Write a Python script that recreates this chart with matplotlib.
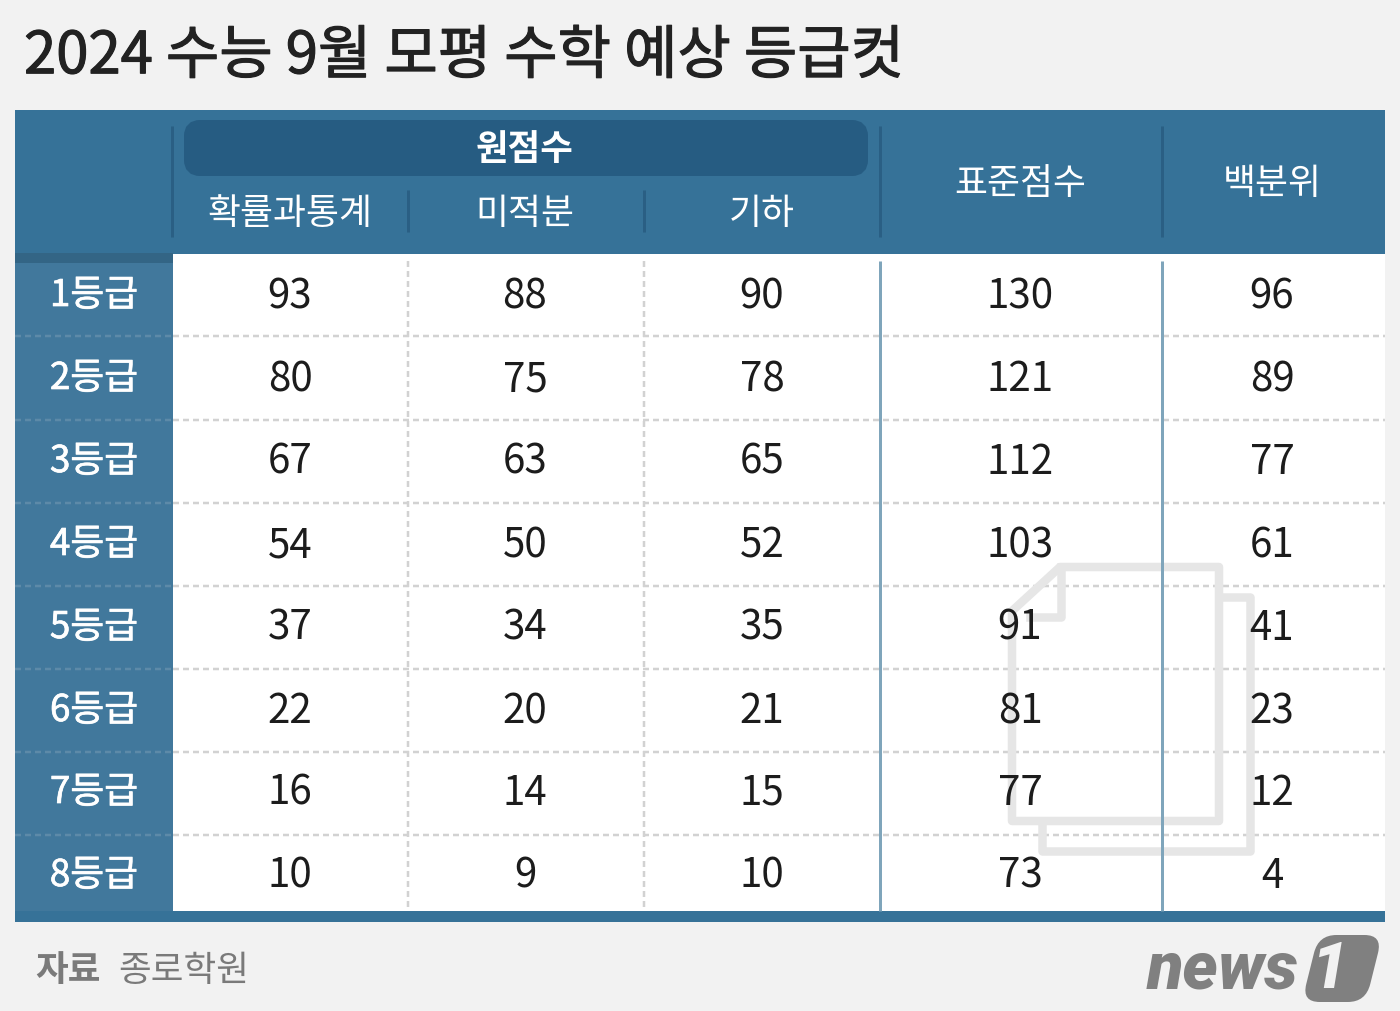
#!/usr/bin/env python3
import matplotlib
matplotlib.use("Agg")
import matplotlib.pyplot as plt
import matplotlib.patheffects as pe
from matplotlib.patches import Rectangle, FancyBboxPatch, Polygon
from matplotlib.transforms import Affine2D

TITLE = "2024 수능 9월 모평 수학 예상 등급컷"
GRADES = ["1등급", "2등급", "3등급", "4등급", "5등급", "6등급", "7등급", "8등급"]
PROB_STAT = [93, 80, 67, 54, 37, 22, 16, 10]
CALCULUS = [88, 75, 63, 50, 34, 20, 14, 9]
GEOMETRY = [90, 78, 65, 52, 35, 21, 15, 10]
STANDARD = [130, 121, 112, 103, 91, 81, 77, 73]
PERCENTILE = [96, 89, 77, 61, 41, 23, 12, 4]
SUB_HEADERS = ["확률과통계", "미적분", "기하"]

FONT = ["Noto Sans CJK KR", "DejaVu Sans"]
plt.rcParams["font.family"] = FONT

BG = "#f2f2f2"
HEAD = "#367298"
SIDE = "#41789c"
DARK = "#265c82"
SEP = "#2a5f84"
DASH = "#d2d2d2"
ICON = "#e6e6e6"
DASHES = (0, (2.4, 1.6))

fig = plt.figure(figsize=(14, 10.12), dpi=100, facecolor=BG)
ax = fig.add_axes([0, 0, 1, 1])
ax.set_xlim(0, 1400)
ax.set_ylim(1012, 0)
ax.axis("off")

def rect(x0, y0, x1, y1, color, z=1):
    ax.add_patch(Rectangle((x0, y0), x1 - x0, y1 - y0, fc=color, ec="none", zorder=z))

def px(n):
    return n * 0.72

def thicker(color, w):
    # only regular and bold are installed, this fakes the medium weight
    return [pe.withStroke(linewidth=w, foreground=color)]

# table blocks
rect(15, 110.5, 1385, 922.5, HEAD)
rect(15, 264, 173, 912, SIDE)
rect(15, 253.5, 173, 264, "#336585", 2)
rect(173, 254.5, 1385, 912, "white", 2)

ax.add_patch(FancyBboxPatch((192, 129), 668, 40, boxstyle="round,pad=0,rounding_size=8",
                            mutation_aspect=1, fc=DARK, ec=DARK, lw=px(16), zorder=2))

# header separators
for x, y0, y1 in [(172, 127, 238), (880, 127, 238), (1161.5, 127, 238), (408, 191, 233), (644, 191, 233)]:
    ax.plot([x, x], [y0, y1], color=SEP, lw=px(3), zorder=3, solid_capstyle="butt")

# grid
row_centers = [293, 376, 459, 542, 625, 708, 790, 873]
col_centers = [290, 525, 762, 1020, 1272]
row_lines = [336.5, 420.5, 503.5, 586.5, 669.5, 752.5, 835.5]
for y in row_lines:
    ax.plot([173, 1385], [y, y], color=DASH, lw=px(2.5), ls=DASHES, zorder=3)
    ax.plot([15, 173], [y, y], color="#5d8aa8", lw=px(2.5), ls=DASHES, zorder=3)
for x in [408, 644]:
    ax.plot([x, x], [262, 912], color=DASH, lw=px(2.5), ls=DASHES, zorder=3)

# watermark icon
icon_lw = px(8.5)
ax.add_patch(Polygon([(1012, 612), (1060, 568), (1219, 568), (1219, 822), (1012, 822)], closed=True,
                     fc="none", ec=ICON, lw=icon_lw, joinstyle="round", zorder=4))
ax.plot([1061, 1061, 1030], [568, 618, 618], color=ICON, lw=icon_lw, solid_joinstyle="round", zorder=4)
ax.plot([1219, 1250, 1250, 1042, 1042], [598, 598, 852, 852, 822], color=ICON, lw=icon_lw,
        solid_joinstyle="round", zorder=4)

for x in [880, 1161.5]:
    ax.plot([x, x], [262, 912], color="#7fa5bb", lw=px(3), zorder=5, solid_capstyle="butt")

# texts
ax.text(24, 58, TITLE, fontsize=41.8, color="#222222", ha="left", va="center", zorder=6,
        path_effects=thicker("#222222", 0.8))
ax.text(525, 149, "원점수", fontsize=25.5, fontweight="bold", color="white", ha="center", va="center", zorder=6)
for x, label in zip(col_centers[:3], SUB_HEADERS):
    ax.text(x, 213.5, label, fontsize=25.8, color="white", ha="center", va="center", zorder=6)
ax.text(col_centers[3], 183.5, "표준점수", fontsize=25.8, color="white", ha="center", va="center", zorder=6)
ax.text(col_centers[4], 183.5, "백분위", fontsize=25.8, color="white", ha="center", va="center", zorder=6)

columns = [PROB_STAT, CALCULUS, GEOMETRY, STANDARD, PERCENTILE]
for y, grade in zip(row_centers, GRADES):
    ax.text(94, y + 3.5, grade, fontsize=26.5, color="white", ha="center", va="center", zorder=6,
            path_effects=thicker("white", 0.5))
for x, col in zip(col_centers, columns):
    for y, val in zip(row_centers, col):
        ax.text(x, y + 3.5, str(val), fontsize=29, color="#1c1c1c", ha="center", va="center", zorder=6)

# source
ax.text(35, 971, "자료", fontsize=25.6, fontweight="bold", color="#7a7a7a", ha="left", va="center")
ax.text(118, 971, "종로학원", fontsize=25.6, color="#7a7a7a", ha="left", va="center")

# logo
ax.text(1147, 970, "news", fontsize=48, family="Roboto", style="italic", fontweight="black",
        color="#808080", ha="left", va="center")
skew = Affine2D().translate(-1342, -970).skew_deg(-14, 0).translate(1342, 970) + ax.transData
ax.add_patch(FancyBboxPatch((1310, 936), 64, 67, boxstyle="round,pad=0,rounding_size=18",
                            fc="#808080", ec="none", transform=skew, zorder=6))
ax.text(1330, 971, "1", fontsize=46, family="Roboto", style="italic", fontweight="black",
        color=BG, ha="center", va="center", zorder=7)

fig.savefig("out.png", dpi=100, facecolor=BG)
